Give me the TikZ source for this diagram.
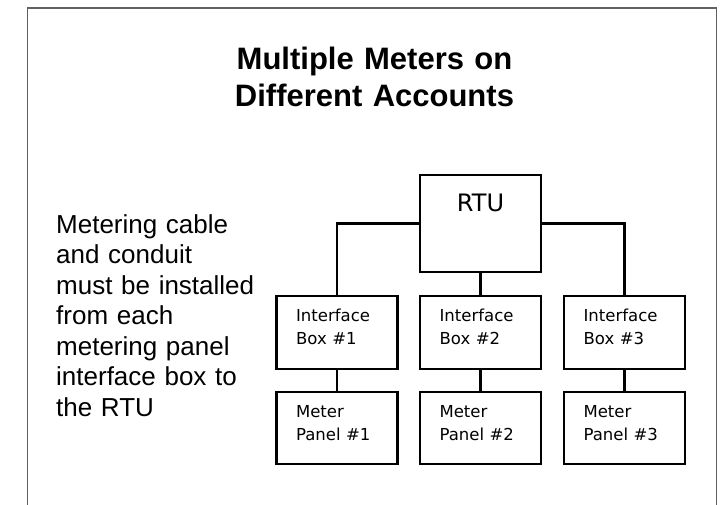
\documentclass[tikz,border=0pt]{standalone}
\usepackage{fontspec}
\setmainfont{Liberation Sans}
\newfontfamily\boxfont{DejaVu Sans}
\begin{document}
\begin{tikzpicture}[x=1pt,y=-1pt,
  unitbox/.style={draw=black,line width=2.2pt,minimum width=121pt,minimum height=73pt,inner sep=0pt},
  wire/.style={draw=black,line width=2.2pt},
  boxtext/.style={inner sep=0pt,anchor=base west,text width=100pt,align=left,
    font=\boxfont\fontsize{16.5}{23.5}\selectfont},
  frame/.style={draw=black!62,line width=1.6pt}]
\useasboundingbox (0,0) rectangle (721,504);
% outer frame, open at the bottom
\draw[frame] (27.5,520) -- (27.5,7.7) -- (716.3,7.7) -- (716.3,520);

% title
\node (title) [anchor=base,inner sep=0pt,text width=400pt,align=center,
  font=\bfseries\fontsize{31}{37.7}\selectfont] at (374.5,69)
  {Multiple Meters on\\Different Accounts};

% note on the left
\node (note) [anchor=base west,inner sep=0pt,text width=230pt,align=left,
  font=\fontsize{26}{30.5}\selectfont] at (56,233)
  {Metering cable\\and conduit\\must be installed\\from each\\metering panel\\interface box to\\the RTU};

% RTU
\node (rtu) [unitbox,minimum height=97pt] at (480.5,223.5) {};
\node (rtulabel) [anchor=base,inner sep=0pt,font=\boxfont\fontsize{24}{26}\selectfont]
  at ([yshift=-38pt]rtu.north) {RTU};

% interface boxes
\node (ib1) [unitbox] at (337,332.5) {};
\node (ib2) [unitbox] at (480.5,332.5) {};
\node (ib3) [unitbox] at (624.5,332.5) {};
% meter panels
\node (mp1) [unitbox,minimum height=72pt] at (337,428) {};
\node (mp2) [unitbox,minimum height=72pt] at (480.5,428) {};
\node (mp3) [unitbox,minimum height=72pt] at (624.5,428) {};

\foreach \i in {1,2,3}{
  \node (ibt\i) [boxtext] at ([xshift=20.5pt,yshift=-26.5pt]ib\i.north west) {Interface\\Box \#\i};
  \node (mpt\i) [boxtext] at ([xshift=20.5pt,yshift=-26.5pt]mp\i.north west) {Meter\\Panel \#\i};
}

% wiring
\draw[wire] (rtu.west) -| (ib1.north);
\draw[wire] (rtu.east) -| (ib3.north);
\draw[wire] (rtu.south) -- (ib2.north);
\foreach \i in {1,2,3}{
  \draw[wire] (ib\i.south) -- (mp\i.north);
}
\end{tikzpicture}
\end{document}
